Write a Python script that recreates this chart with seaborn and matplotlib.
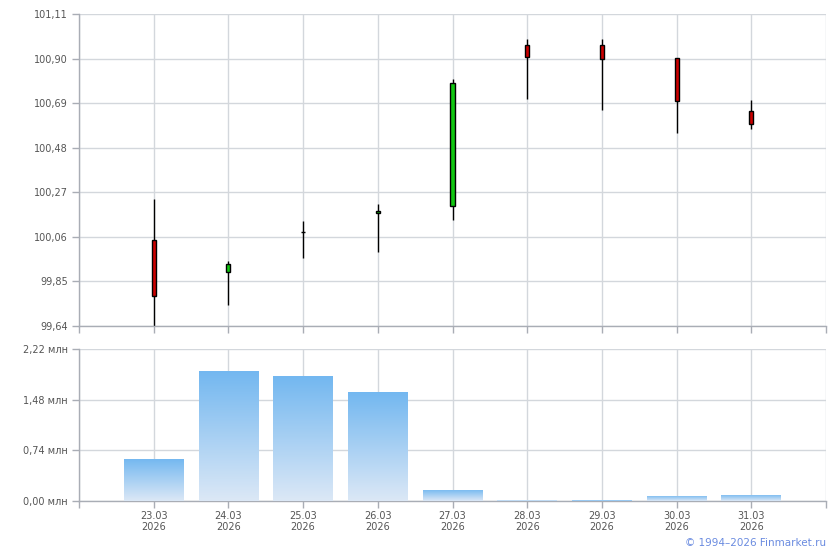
import numpy as np
import pandas as pd
import matplotlib
matplotlib.use("Agg")
import matplotlib.pyplot as plt
from matplotlib.colors import LinearSegmentedColormap
import seaborn as sns

# ---- data ----
dates = ["23.03\n2026", "24.03\n2026", "25.03\n2026", "26.03\n2026", "27.03\n2026",
         "28.03\n2026", "29.03\n2026", "30.03\n2026", "31.03\n2026"]
open_ = [100.044, 99.893, 100.081, 100.171, 100.204, 100.962, 100.962, 100.901, 100.653]
close = [99.780, 99.930, 100.081, 100.180, 100.783, 100.909, 100.899, 100.700, 100.593]
high = [100.240, 99.946, 100.133, 100.213, 100.802, 100.991, 100.991, 100.901, 100.703]
low = [99.640, 99.740, 99.962, 99.990, 100.139, 100.711, 100.659, 100.551, 100.570]
volume = [0.617, 1.902, 1.829, 1.596, 0.165, 0.015, 0.012, 0.077, 0.092]  # млн

price_ticks = [99.64, 99.85, 100.06, 100.27, 100.48, 100.69, 100.90, 101.11]
price_labels = ["99,64", "99,85", "100,06", "100,27", "100,48", "100,69", "100,90", "101,11"]
vol_ticks = [0.0, 0.74, 1.48, 2.22]
vol_labels = ["0,00 млн", "0,74 млн", "1,48 млн", "2,22 млн"]

sns.set_theme(style="white")
plt.rcParams['font.family'] = ['DejaVu Sans']

GRID = "#d3d7dc"
SPINE = "#a9adb5"
TXT = "#555555"
RED = "#cc0000"
GREEN = "#11c711"

fig = plt.figure(figsize=(8.4, 5.5), dpi=100)
ax1 = fig.add_axes([79/840, 1-326/550, 747/840, 312/550])
ax2 = fig.add_axes([79/840, 1-501/550, 747/840, 152/550])

n = len(dates)
x = np.arange(n)

def style(ax):
    for s in ["top", "right"]:
        ax.spines[s].set_visible(False)
    for s in ["left", "bottom"]:
        ax.spines[s].set_color(SPINE)
        ax.spines[s].set_linewidth(1.0)
    ax.set_xlim(-1, n)
    ax.set_xticks(list(range(-1, n + 1)))
    ax.grid(True, color=GRID, linewidth=1.0)
    ax.set_axisbelow(True)
    ax.tick_params(axis="both", which="both", direction="out", length=5, width=1,
                   color=SPINE, labelsize=7, labelcolor=TXT, pad=3, left=True, bottom=True)
    ax.set_xlabel("")
    ax.set_ylabel("")

# ---- candlesticks ----
df = pd.DataFrame({"date": dates, "open": open_, "close": close, "high": high, "low": low})
ax1.vlines(x, df["low"], df["high"], color="black", linewidth=1.0, zorder=2)
colors = [GREEN if c > o else RED for o, c in zip(df["open"], df["close"])]
bottoms = np.minimum(df["open"], df["close"])
heights = np.abs(df["close"] - df["open"])
ax1.bar(x, heights, bottom=bottoms, width=0.055, color=colors, edgecolor="black",
        linewidth=1.0, zorder=3)
style(ax1)
ax1.set_ylim(price_ticks[0], price_ticks[-1])
ax1.set_yticks(price_ticks)
ax1.set_yticklabels(price_labels)
ax1.set_xticklabels([])

# ---- volume ----
vdf = pd.DataFrame({"date": dates, "vol": volume})
sns.barplot(data=vdf, x="date", y="vol", order=dates, ax=ax2, width=0.8,
            color="#74b8f0", saturation=1, edgecolor="none", zorder=2)
cmap = LinearSegmentedColormap.from_list("vg", ["#dce8f6", "#72b7f0"])
grad = np.linspace(0, 1, 256).reshape(-1, 1)
for p in list(ax2.patches):
    x0, y0 = p.get_x(), p.get_y()
    w, h = p.get_width(), p.get_height()
    if h <= 0:
        continue
    im = ax2.imshow(grad, cmap=cmap, origin="lower", aspect="auto",
                    extent=[x0, x0 + w, y0, y0 + h], zorder=3)
    im.set_clip_path(p)
style(ax2)
ax2.set_ylim(vol_ticks[0], vol_ticks[-1])
ax2.set_yticks(vol_ticks)
ax2.set_yticklabels(vol_labels)
ax2.set_xticklabels([""] + dates + [""], linespacing=1.1)
ax2.tick_params(axis="x", pad=2)

fig.text(826/840, 1-543/550, "© 1994–2026 Finmarket.ru", ha="right", va="center",
         fontsize=7.5, color="#6a8be0")

fig.savefig("out.png", dpi=100, facecolor="white")
